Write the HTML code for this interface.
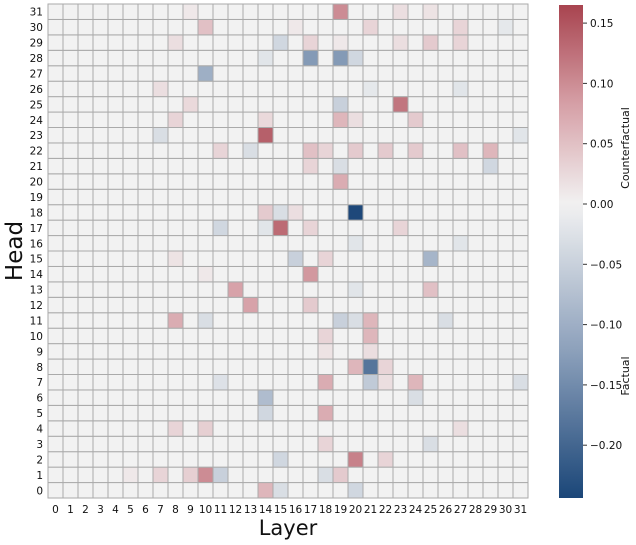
<!DOCTYPE html>
<html><head><meta charset="utf-8"><style>
body{margin:0;background:#fff;}
svg{display:block;font-family:"DejaVu Sans","Liberation Sans",sans-serif;}
</style></head><body>
<svg id="chart" width="636" height="545" viewBox="0 0 636 545"></svg>
<script>
// sparse heatmap data: layer index, head index, value (all other cells ~0)
const cellLayers = [19,23,25,9, 10,21,27,30,16, 8,15,17,25,27,19,23, 17,19,20,14, 10, 7,27,21, 19,23,9, 8,19,24,20,14, 14,7,31, 11,13,17,18,20,22,24,27,29, 17,19,29, 19, 14,15,16,20, 11,15,17,23,14, 27,20,
 16,25,8,18, 17,10, 12,25,20, 13,17, 8,10,19,20,21,26, 21,18, 18,21, 20,21,22, 18,21,22,24,11,31, 14,24, 14,18, 8,10,27, 18,25, 15,20,22, 10,11,7,9,18,19,5, 14,20,15];
const cellHeads = [31,31,31,31, 30,30,30,30,30, 29,29,29,29,29,29,29, 28,28,28,28, 27, 26,26,26, 25,25,25, 24,24,24,24,24, 23,23,23, 22,22,22,22,22,22,22,22,22, 21,21,21, 20, 18,18,18,18, 17,17,17,17,17, 16,16,
 15,15,15,15, 14,14, 13,13,13, 12,12, 11,11,11,11,11,11, 10,10, 9,9, 8,8,8, 7,7,7,7,7,7, 6,6, 5,5, 4,4,4, 3,3, 2,2,2, 1,1,1,1,1,1,1, 0,0,0];
const cellValues = [0.10,0.02,0.015,0.01, 0.05,0.03,0.03,-0.015,0.01, 0.02,-0.04,0.03,0.04,0.03,0.01,0.02, -0.13,-0.13,-0.04,-0.02, -0.10, 0.02,-0.02,-0.015, -0.05,0.12,0.025, 0.03,0.06,0.04,0.02,0.025, 0.14,-0.03,-0.02, 0.03,-0.03,0.05,0.03,0.04,0.04,0.04,0.05,0.06, 0.03,-0.03,-0.04, 0.07, 0.04,-0.03,0.02,-0.24, -0.04,0.13,0.03,0.03,-0.02, -0.02,-0.02,
 -0.05,-0.09,0.015,0.03, 0.09,0.01, 0.08,0.05,-0.02, 0.08,0.04, 0.07,-0.03,-0.05,-0.03,0.06,-0.03, 0.06,0.03, 0.015,0.02, 0.06,-0.18,0.03, 0.07,-0.06,0.02,0.06,-0.025,-0.03, -0.08,-0.03, -0.04,0.07, 0.03,0.035,0.02, 0.03,-0.03, -0.04,0.11,0.03, 0.10,-0.05,0.03,0.035,-0.03,0.04,0.01, 0.06,-0.04,-0.03];
const cbTicks = [0.15,0.10,0.05,0.00,-0.05,-0.10,-0.15,-0.20];
const N = 32, vmin = -0.243, vmax = 0.165;

const svg = document.getElementById('chart');
const NS = 'http://www.w3.org/2000/svg';
const X0=48, X1=528, Y0=4, Y1=498;
const cw=(X1-X0)/N, ch=(Y1-Y0)/N;
const xs = l => X0 + l*cw;
const ys = h => Y0 + (N-1-h)*ch;
const CBX=559, CBW=24, CBT=5, CBB=498;
const cby = v => 204 + (0 - v)/0.05*60.3;

function lerp(a,b,t){return a.map((x,i)=>Math.round(x+(b[i]-x)*t));}
function color(v){
  const c=[242,242,242], rm=[214,160,167], r=[168,68,79], bm=[140,160,187], b=[27,70,120];
  if(v>=0){const t=Math.min(v/vmax,1); return 'rgb('+(t<0.5?lerp(c,rm,t*2):lerp(rm,r,(t-0.5)*2))+')';}
  const t=Math.min(-v/(-vmin),1); return 'rgb('+(t<0.5?lerp(c,bm,t*2):lerp(bm,b,(t-0.5)*2))+')';
}
function el(tag,attrs,text){const e=document.createElementNS(NS,tag);for(const k in attrs)e.setAttribute(k,attrs[k]);if(text!==undefined)e.textContent=text;svg.appendChild(e);return e;}

const grid = {};
cellLayers.forEach((l,i)=>{grid[l+'_'+cellHeads[i]]=cellValues[i];});
for(let l=0;l<N;l++)for(let h=0;h<N;h++){
  const v = grid[l+'_'+h]||0;
  const r = el('rect',{x:xs(l),y:ys(h),width:cw,height:ch,fill:color(v),stroke:'#aaaaaa','stroke-width':1});
  
  
}
for(let i=0;i<N;i++){
  const t=el('text',{x:xs(i)+cw/2,y:513,'font-size':10.5,'text-anchor':'middle',fill:'#111'},String(i));
  
  
  const u=el('text',{x:43,y:ys(i)+ch/2+4,'font-size':10.5,'text-anchor':'end',fill:'#111'},String(i));
  
  
}
const xt=el('text',{x:288,y:535,'font-size':21,'text-anchor':'middle',fill:'#111'},'Layer');


const yt=el('text',{x:22,y:251,'font-size':23,'text-anchor':'middle',fill:'#111',transform:'rotate(-90 22 251)'},'Head');



// colorbar
const defs=el('defs',{});
const g=document.createElementNS(NS,'linearGradient');
g.setAttribute('id','cbg');g.setAttribute('x1','0');g.setAttribute('y1','0');g.setAttribute('x2','0');g.setAttribute('y2','1');
defs.appendChild(g);
for(let k=0;k<=40;k++){const v=vmax-(vmax-vmin)*k/40;const s=document.createElementNS(NS,'stop');s.setAttribute('offset',(k/40).toString());s.setAttribute('stop-color',color(v));g.appendChild(s);}
const cb=el('rect',{x:CBX,y:CBT,width:CBW,height:CBB-CBT,fill:'url(#cbg)'});


cbTicks.forEach(v=>{
  const y=cby(v);
  el('line',{x1:CBX+CBW,x2:CBX+CBW+4,y1:y,y2:y,stroke:'#333','stroke-width':1});
  const t=el('text',{x:CBX+CBW+7,y:y+4,'font-size':10.5,fill:'#111'},(v<0?'\u2212':'')+Math.abs(v).toFixed(2));
  
  
});
const c1=el('text',{x:629,y:148,'font-size':11,'text-anchor':'middle',fill:'#111',transform:'rotate(-90 629 148)'},'Counterfactual');


const c2=el('text',{x:629,y:376,'font-size':11,'text-anchor':'middle',fill:'#111',transform:'rotate(-90 629 376)'},'Factual');


</script>
</body></html>
